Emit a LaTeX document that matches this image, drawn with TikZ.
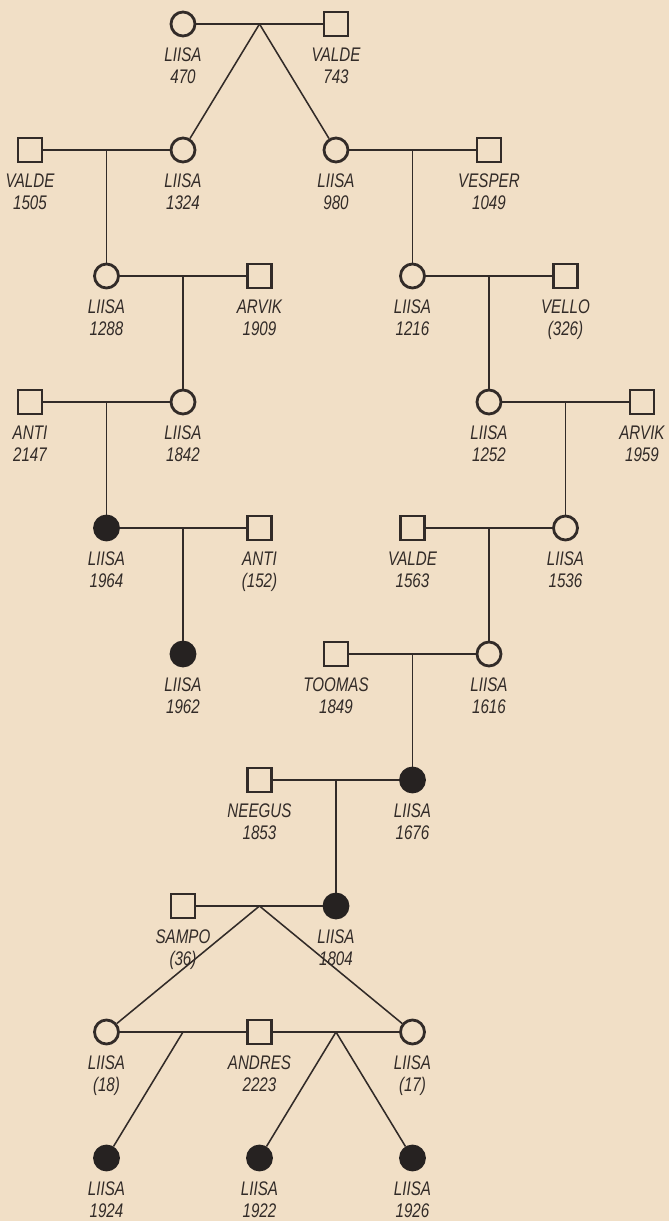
\documentclass[tikz,border=0pt]{standalone}
\usepackage{fontspec}
\usepackage{tikz}
\usetikzlibrary{positioning}
\newfontfamily\labfont[FakeStretch=0.77]{Liberation Sans}
\definecolor{PaperTan}{RGB}{241,223,198}
\definecolor{InkGray}{RGB}{50,43,40}
\definecolor{InkDark}{RGB}{38,34,33}

\begin{document}
\begin{tikzpicture}[
    x=1.9125cm,
    y=-3.15cm,
    female/.style={
        circle,
        draw=InkGray,
        line width=2pt,
        minimum size=0.6cm,
        inner sep=0pt
    },
    male/.style={
        rectangle,
        draw=InkGray,
        line width=2pt,
        minimum size=0.6cm,
        inner sep=0pt
    },
    affected/.style={
        female,
        draw=InkDark,
        fill=InkDark
    },
    lab/.style={
        font=\labfont\itshape\fontsize{14}{15.7}\selectfont,
        text=InkGray,
        align=center,
        inner sep=0pt
    },
    link/.style={
        draw=InkGray,
        line width=1.1pt
    },
    label distance=0.26cm
]

% paper
\fill[PaperTan] (-0.392,-0.1905) rectangle (8.353,9.5);
\useasboundingbox (-0.392,-0.1905) rectangle (8.353,9.5);

% generation 0
\node[female, label={[lab,name=l470t]below:{LIISA\\470}}] (l470) at (2,0) {};
\node[male, label={[lab,name=v743t]below:{VALDE\\743}}] (v743) at (4,0) {};
\coordinate (m0) at (3,0);
\draw[link] (l470) -- (v743);

% generation 1
\node[male, label={[lab,name=v1505t]below:{VALDE\\1505}}] (v1505) at (0,1) {};
\node[female, label={[lab,name=l1324t]below:{LIISA\\1324}}] (l1324) at (2,1) {};
\node[female, label={[lab,name=l980t]below:{LIISA\\980}}] (l980) at (4,1) {};
\node[male, label={[lab,name=vs1049t]below:{VESPER\\1049}}] (vs1049) at (6,1) {};
\draw[link] (m0) -- (l1324);
\draw[link] (m0) -- (l980);
\coordinate (m1a) at (1,1);
\coordinate (m1b) at (5,1);
\draw[link] (v1505) -- (l1324);
\draw[link] (l980) -- (vs1049);

% generation 2
\node[female, label={[lab,name=l1288t]below:{LIISA\\1288}}] (l1288) at (1,2) {};
\node[male, label={[lab,name=ar1909t]below:{ARVIK\\1909}}] (ar1909) at (3,2) {};
\node[female, label={[lab,name=l1216t]below:{LIISA\\1216}}] (l1216) at (5,2) {};
\node[male, label={[lab,name=vl326t]below:{VELLO\\(326)}}] (vl326) at (7,2) {};
\draw[link] (m1a) -- (l1288);
\draw[link] (m1b) -- (l1216);
\coordinate (m2a) at (2,2);
\coordinate (m2b) at (6,2);
\draw[link] (l1288) -- (ar1909);
\draw[link] (l1216) -- (vl326);

% generation 3
\node[male, label={[lab,name=an2147t]below:{ANTI\\2147}}] (an2147) at (0,3) {};
\node[female, label={[lab,name=l1842t]below:{LIISA\\1842}}] (l1842) at (2,3) {};
\node[female, label={[lab,name=l1252t]below:{LIISA\\1252}}] (l1252) at (6,3) {};
\node[male, label={[lab,name=ar1959t]below:{ARVIK\\1959}}] (ar1959) at (8,3) {};
\draw[link] (m2a) -- (l1842);
\draw[link] (m2b) -- (l1252);
\coordinate (m3a) at (1,3);
\coordinate (m3b) at (7,3);
\draw[link] (an2147) -- (l1842);
\draw[link] (l1252) -- (ar1959);

% generation 4
\node[affected, label={[lab,name=l1964t]below:{LIISA\\1964}}] (l1964) at (1,4) {};
\node[male, label={[lab,name=an152t]below:{ANTI\\(152)}}] (an152) at (3,4) {};
\node[male, label={[lab,name=v1563t]below:{VALDE\\1563}}] (v1563) at (5,4) {};
\node[female, label={[lab,name=l1536t]below:{LIISA\\1536}}] (l1536) at (7,4) {};
\draw[link] (m3a) -- (l1964);
\draw[link] (m3b) -- (l1536);
\coordinate (m4a) at (2,4);
\coordinate (m4b) at (6,4);
\draw[link] (l1964) -- (an152);
\draw[link] (v1563) -- (l1536);

% generation 5
\node[affected, label={[lab,name=l1962t]below:{LIISA\\1962}}] (l1962) at (2,5) {};
\node[male, label={[lab,name=t1849t]below:{TOOMAS\\1849}}] (t1849) at (4,5) {};
\node[female, label={[lab,name=l1616t]below:{LIISA\\1616}}] (l1616) at (6,5) {};
\draw[link] (m4a) -- (l1962);
\draw[link] (m4b) -- (l1616);
\coordinate (m5) at (5,5);
\draw[link] (t1849) -- (l1616);

% generation 6
\node[male, label={[lab,name=n1853t]below:{NEEGUS\\1853}}] (n1853) at (3,6) {};
\node[affected, label={[lab,name=l1676t]below:{LIISA\\1676}}] (l1676) at (5,6) {};
\draw[link] (m5) -- (l1676);
\coordinate (m6) at (4,6);
\draw[link] (n1853) -- (l1676);

% generation 7
\node[male, label={[lab,name=s36t]below:{SAMPO\\(36)}}] (s36) at (2,7) {};
\node[affected, label={[lab,name=l1804t]below:{LIISA\\1804}}] (l1804) at (4,7) {};
\draw[link] (m6) -- (l1804);
\coordinate (m7) at (3,7);
\draw[link] (s36) -- (l1804);

% generation 8
\node[female, label={[lab,name=l18t]below:{LIISA\\(18)}}] (l18) at (1,8) {};
\node[male, label={[lab,name=a2223t]below:{ANDRES\\2223}}] (a2223) at (3,8) {};
\node[female, label={[lab,name=l17t]below:{LIISA\\(17)}}] (l17) at (5,8) {};
\draw[link] (m7) -- (l18);
\draw[link] (m7) -- (l17);
\coordinate (m8a) at (2,8);
\coordinate (m8b) at (4,8);
\draw[link] (l18) -- (a2223) -- (l17);

% generation 9
\node[affected, label={[lab,name=l1924t]below:{LIISA\\1924}}] (l1924) at (1,9) {};
\node[affected, label={[lab,name=l1922t]below:{LIISA\\1922}}] (l1922) at (3,9) {};
\node[affected, label={[lab,name=l1926t]below:{LIISA\\1926}}] (l1926) at (5,9) {};
\draw[link] (m8a) -- (l1924);
\draw[link] (m8b) -- (l1922);
\draw[link] (m8b) -- (l1926);

\end{tikzpicture}
\end{document}
